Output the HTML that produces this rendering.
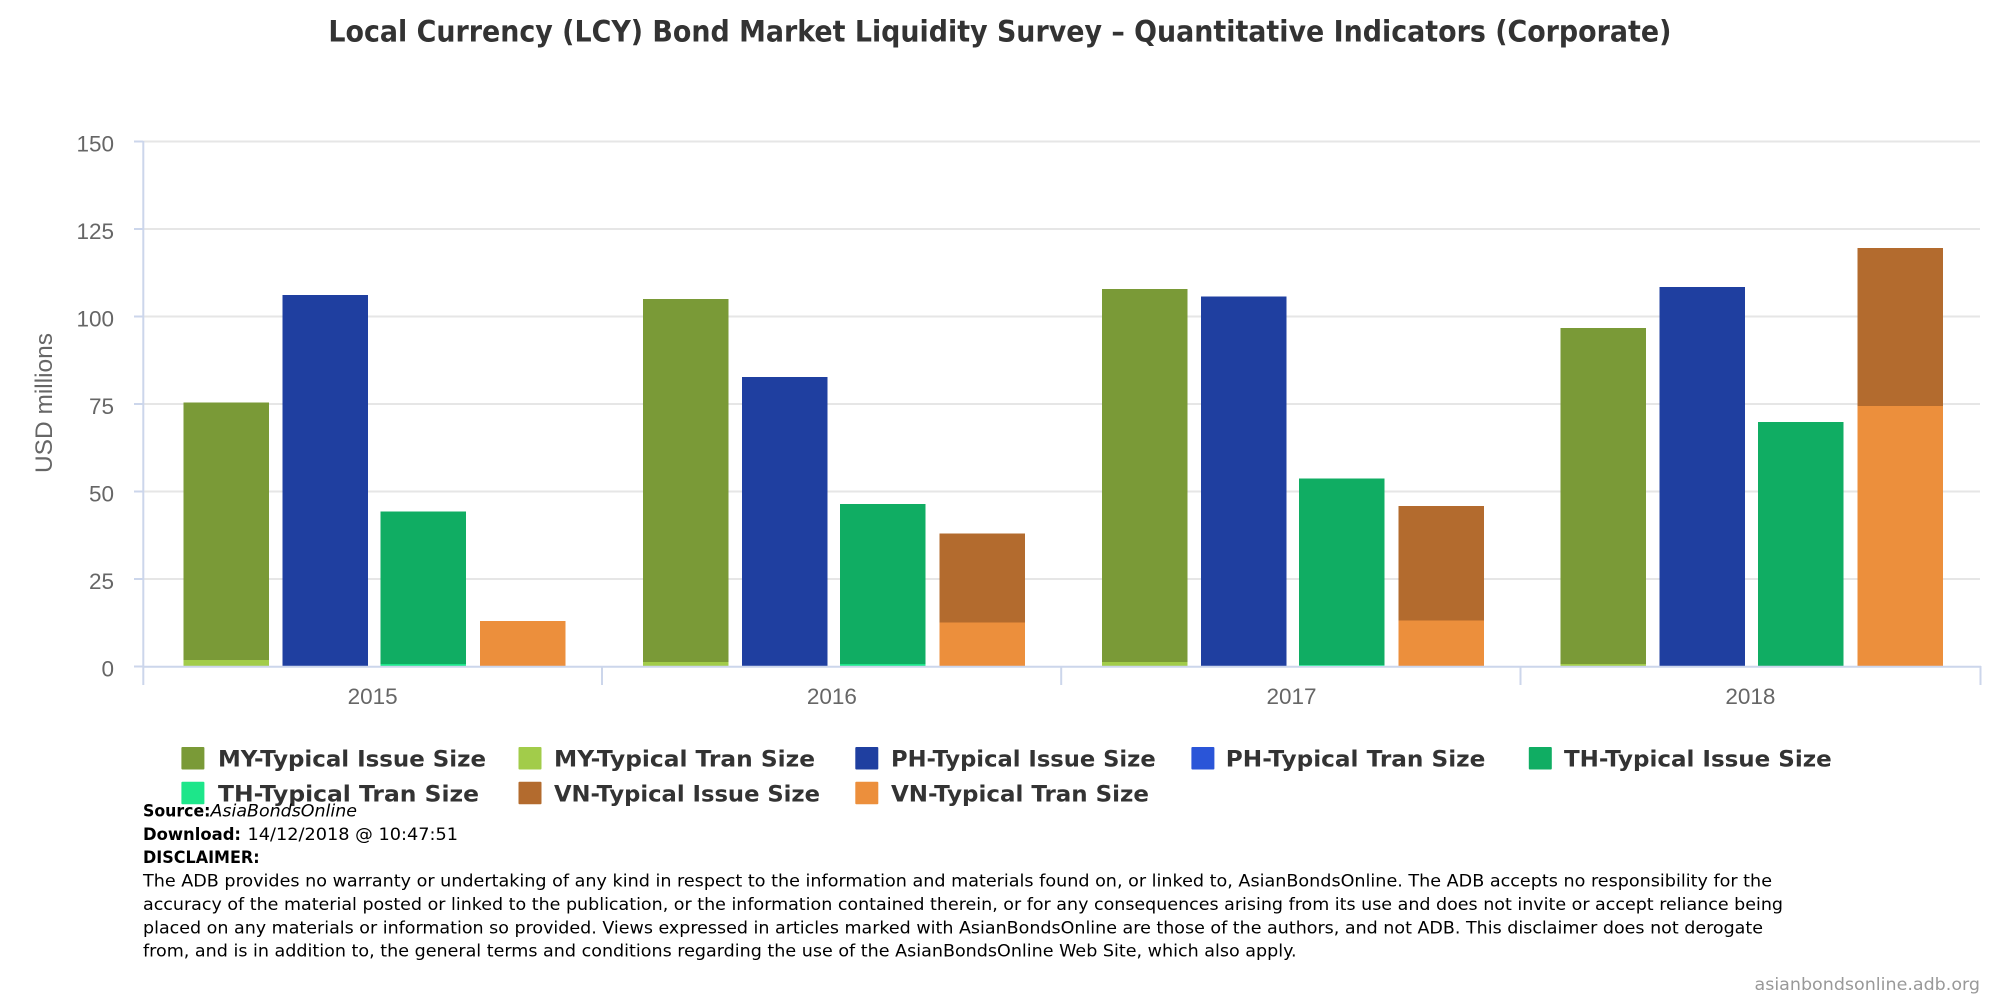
<!DOCTYPE html>
<html>
<head>
<meta charset="utf-8">
<style>
html,body{margin:0;padding:0;background:#fff;}
svg{display:block;}
</style>
</head>
<body>
<svg width="2000" height="1000" viewBox="0 0 2000 1000" xmlns="http://www.w3.org/2000/svg">
<rect x="0" y="0" width="2000" height="1000" fill="#ffffff"/>

<!-- Title -->
<text x="328.4" y="41.7" font-family="DejaVu Sans, Liberation Sans, sans-serif" font-weight="bold" font-size="29.5" fill="#333333" textLength="1343" lengthAdjust="spacingAndGlyphs">Local Currency (LCY) Bond Market Liquidity Survey – Quantitative Indicators (Corporate)</text>

<!-- Gridlines -->
<g stroke="#e6e6e6" stroke-width="2">
<line x1="143" y1="141.5" x2="1980" y2="141.5"/>
<line x1="143" y1="229" x2="1980" y2="229"/>
<line x1="143" y1="316.5" x2="1980" y2="316.5"/>
<line x1="143" y1="404" x2="1980" y2="404"/>
<line x1="143" y1="491.5" x2="1980" y2="491.5"/>
<line x1="143" y1="579" x2="1980" y2="579"/>
</g>
<!-- y ticks -->
<g stroke="#ccd6eb" stroke-width="2">
<line x1="134" y1="141.5" x2="143" y2="141.5"/>
<line x1="134" y1="229" x2="143" y2="229"/>
<line x1="134" y1="316.5" x2="143" y2="316.5"/>
<line x1="134" y1="404" x2="143" y2="404"/>
<line x1="134" y1="491.5" x2="143" y2="491.5"/>
<line x1="134" y1="579" x2="143" y2="579"/>
<line x1="134" y1="666.5" x2="143" y2="666.5"/>
</g>

<!-- Bars -->
<g shape-rendering="crispEdges">
<!-- 2015 -->
<rect x="183.5" y="402.3" width="85.5" height="264.2" fill="#7a9a37"/>
<rect x="183.5" y="660" width="85.5" height="6.5" fill="#a2cc4a"/>
<rect x="282.5" y="295" width="85.5" height="371.5" fill="#1f3fa0"/>
<rect x="380.7" y="511.7" width="85.5" height="154.8" fill="#10ad63"/>
<rect x="380.7" y="664" width="85.5" height="2.5" fill="#1de68a"/>
<rect x="480.2" y="621" width="85.5" height="45.5" fill="#ec8f3c"/>
<!-- 2016 -->
<rect x="642.9" y="299" width="85.5" height="367.5" fill="#7a9a37"/>
<rect x="642.9" y="662" width="85.5" height="4.5" fill="#a2cc4a"/>
<rect x="741.9" y="377" width="85.5" height="289.5" fill="#1f3fa0"/>
<rect x="840.1" y="504" width="85.5" height="162.5" fill="#10ad63"/>
<rect x="840.1" y="664" width="85.5" height="2.5" fill="#1de68a"/>
<rect x="939.6" y="533.3" width="85.5" height="133.2" fill="#b36b2e"/>
<rect x="939.6" y="622.7" width="85.5" height="43.8" fill="#ec8f3c"/>
<!-- 2017 -->
<rect x="1102" y="289" width="85.5" height="377.5" fill="#7a9a37"/>
<rect x="1102" y="662" width="85.5" height="4.5" fill="#a2cc4a"/>
<rect x="1201" y="296.7" width="85.5" height="369.8" fill="#1f3fa0"/>
<rect x="1299.2" y="478.3" width="85.5" height="188.2" fill="#10ad63"/>
<rect x="1299.2" y="665" width="85.5" height="1.5" fill="#1de68a"/>
<rect x="1398.7" y="506" width="85.5" height="160.5" fill="#b36b2e"/>
<rect x="1398.7" y="620.7" width="85.5" height="45.8" fill="#ec8f3c"/>
<!-- 2018 -->
<rect x="1560.6" y="328" width="85.5" height="338.5" fill="#7a9a37"/>
<rect x="1560.6" y="664" width="85.5" height="2.5" fill="#a2cc4a"/>
<rect x="1659.6" y="287" width="85.5" height="379.5" fill="#1f3fa0"/>
<rect x="1757.8" y="422" width="85.5" height="244.5" fill="#10ad63"/>
<rect x="1857.3" y="248" width="85.5" height="418.5" fill="#b36b2e"/>
<rect x="1857.3" y="406" width="85.5" height="260.5" fill="#ec8f3c"/>
</g>

<!-- Axes -->
<g stroke="#ccd6eb" stroke-width="2">
<line x1="143.3" y1="141" x2="143.3" y2="685"/>
<line x1="143" y1="666.7" x2="1981" y2="666.7"/>
<line x1="602" y1="666" x2="602" y2="685"/>
<line x1="1061.2" y1="666" x2="1061.2" y2="685"/>
<line x1="1520.5" y1="666" x2="1520.5" y2="685"/>
<line x1="1980.5" y1="666" x2="1980.5" y2="685"/>
</g>

<!-- Y labels -->
<g font-family="Liberation Sans, DejaVu Sans, sans-serif" font-size="22.5" fill="#666666" text-anchor="end">
<text x="114" y="151.5">150</text>
<text x="114" y="239">125</text>
<text x="114" y="326.5">100</text>
<text x="114" y="414">75</text>
<text x="114" y="501.5">50</text>
<text x="114" y="589">25</text>
<text x="114" y="676.5">0</text>
</g>
<!-- Y axis title -->
<text transform="translate(52,403) rotate(-90)" font-family="Liberation Sans, DejaVu Sans, sans-serif" font-size="24" fill="#666666" text-anchor="middle" textLength="140" lengthAdjust="spacingAndGlyphs">USD millions</text>

<!-- X labels -->
<g font-family="Liberation Sans, DejaVu Sans, sans-serif" font-size="22.5" fill="#666666" text-anchor="middle">
<text x="372.6" y="704">2015</text>
<text x="831.9" y="704">2016</text>
<text x="1291.5" y="704">2017</text>
<text x="1750.4" y="704">2018</text>
</g>

<!-- Legend -->
<g font-family="DejaVu Sans, Liberation Sans, sans-serif" font-weight="bold" font-size="22.4" fill="#333333">
<rect x="181.4" y="747" width="23" height="22.5" rx="1" fill="#7a9a37"/>
<text x="218" y="766.5" textLength="268" lengthAdjust="spacingAndGlyphs">MY-Typical Issue Size</text>
<rect x="518.5" y="747" width="23" height="22.5" rx="1" fill="#a2cc4a"/>
<text x="554" y="766.5" textLength="261" lengthAdjust="spacingAndGlyphs">MY-Typical Tran Size</text>
<rect x="855.3" y="747" width="23" height="22.5" rx="1" fill="#1f3fa0"/>
<text x="891" y="766.5" textLength="264.7" lengthAdjust="spacingAndGlyphs">PH-Typical Issue Size</text>
<rect x="1191.4" y="747" width="23" height="22.5" rx="1" fill="#2a55d8"/>
<text x="1225.8" y="766.5" textLength="259.6" lengthAdjust="spacingAndGlyphs">PH-Typical Tran Size</text>
<rect x="1528.8" y="747" width="23" height="22.5" rx="1" fill="#10ad63"/>
<text x="1564" y="766.5" textLength="267.7" lengthAdjust="spacingAndGlyphs">TH-Typical Issue Size</text>

<rect x="181.4" y="781.7" width="23" height="22.5" rx="1" fill="#1de68a"/>
<text x="218" y="801.5" textLength="261" lengthAdjust="spacingAndGlyphs">TH-Typical Tran Size</text>
<rect x="518.5" y="781.7" width="23" height="22.5" rx="1" fill="#b36b2e"/>
<text x="554" y="801.5" textLength="266" lengthAdjust="spacingAndGlyphs">VN-Typical Issue Size</text>
<rect x="855.3" y="781.7" width="23" height="22.5" rx="1" fill="#ec8f3c"/>
<text x="891" y="801.5" textLength="258" lengthAdjust="spacingAndGlyphs">VN-Typical Tran Size</text>
</g>

<!-- Footer -->
<g font-family="DejaVu Sans, Liberation Sans, sans-serif" font-size="17" fill="#000000">
<text x="143" y="816.5" font-weight="bold" textLength="67.5" lengthAdjust="spacingAndGlyphs">Source:</text>
<text x="210.5" y="816.5" font-style="italic" textLength="146.5" lengthAdjust="spacingAndGlyphs">AsiaBondsOnline</text>
<text x="143" y="840" font-weight="bold" textLength="98" lengthAdjust="spacingAndGlyphs">Download:</text>
<text x="247.5" y="840" textLength="210.5" lengthAdjust="spacingAndGlyphs">14/12/2018 @ 10:47:51</text>
<text x="143" y="863" font-weight="bold" textLength="116.6" lengthAdjust="spacingAndGlyphs">DISCLAIMER:</text>
<text x="143" y="886.5" textLength="1629" lengthAdjust="spacingAndGlyphs">The ADB provides no warranty or undertaking of any kind in respect to the information and materials found on, or linked to, AsianBondsOnline. The ADB accepts no responsibility for the</text>
<text x="143" y="910" textLength="1640" lengthAdjust="spacingAndGlyphs">accuracy of the material posted or linked to the publication, or the information contained therein, or for any consequences arising from its use and does not invite or accept reliance being</text>
<text x="143" y="933.3" textLength="1620" lengthAdjust="spacingAndGlyphs">placed on any materials or information so provided. Views expressed in articles marked with AsianBondsOnline are those of the authors, and not ADB. This disclaimer does not derogate</text>
<text x="143" y="956.6" textLength="1153.6" lengthAdjust="spacingAndGlyphs">from, and is in addition to, the general terms and conditions regarding the use of the AsianBondsOnline Web Site, which also apply.</text>
</g>

<!-- Credit -->
<text x="1980" y="990" font-family="DejaVu Sans, Liberation Sans, sans-serif" font-size="17" fill="#999999" text-anchor="end" textLength="225.5" lengthAdjust="spacingAndGlyphs">asianbondsonline.adb.org</text>
</svg>
</body>
</html>
